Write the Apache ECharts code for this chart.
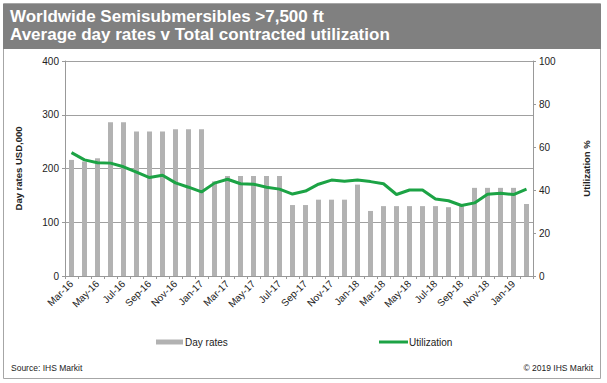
<!DOCTYPE html>
<html>
<head>
<meta charset="utf-8">
<style>
html,body{margin:0;padding:0;background:#fff;}
#c{width:607px;height:383px;}
</style>
<script src="https://cdn.jsdelivr.net/npm/echarts@6/dist/echarts.min.js"></script>
</head>
<body>
<div id="c"></div>
<script>
var categories = ['Mar-16','Apr-16','May-16','Jun-16','Jul-16','Aug-16','Sep-16','Oct-16','Nov-16','Dec-16','Jan-17','Feb-17',
  'Mar-17','Apr-17','May-17','Jun-17','Jul-17','Aug-17','Sep-17','Oct-17','Nov-17','Dec-17','Jan-18','Feb-18',
  'Mar-18','Apr-18','May-18','Jun-18','Jul-18','Aug-18','Sep-18','Oct-18','Nov-18','Dec-18','Jan-19','Feb-19'];
var dayRates = [216, 213, 219, 286, 286, 269, 269, 269, 273, 273, 273, 176,
  186, 186, 186, 186, 186, 132, 132, 142, 142, 142, 170, 121,
  130, 130, 130, 130, 130, 128, 130, 164, 164, 164, 164, 134];
var utilization = [57.4, 54, 52.7, 52.5, 50.8, 48.3, 45.8, 46.9, 43.3, 41.3, 39.1, 43.2,
  45, 42.9, 42.7, 41.3, 40.4, 38.1, 39.5, 42.7, 44.6, 44.1, 44.6, 43.9,
  42.9, 37.9, 40, 40, 35.8, 35, 32.8, 34, 38, 38.5, 37.9, 40.4];
var leftTicks = [0, 100, 200, 300, 400];
var rightTicks = [0, 20, 40, 60, 80, 100];

var FONT = 'Liberation Sans, Arial, sans-serif';
var chart = echarts.init(document.getElementById('c'), null, {renderer: 'svg'});
chart.setOption({
  backgroundColor: '#fff',
  animation: false,
  textStyle: {fontFamily: FONT},
  graphic: [
    {type: 'rect', shape: {x: 3.5, y: 3.5, width: 597, height: 375}, style: {fill: 'none', stroke: '#a6a6a6', lineWidth: 1}, z: 0},
    {type: 'rect', shape: {x: 3, y: 4, width: 598, height: 45}, style: {fill: '#808080'}, z: 1},
    {type: 'text', left: 10, top: 8, z: 2, style: {text: 'Worldwide Semisubmersibles >7,500 ft', fill: '#fff', font: 'bold 17px ' + FONT}},
    {type: 'text', left: 10, top: 26, z: 2, style: {text: 'Average day rates v Total contracted utilization', fill: '#fff', font: 'bold 17px ' + FONT}},
    {type: 'text', left: 11, top: 363, z: 2, style: {text: 'Source: IHS Markit', fill: '#222', font: '8.5px ' + FONT}},
    {type: 'text', right: 14, top: 363, z: 2, style: {text: '\u00A9 2019 IHS Markit', fill: '#222', font: '8.5px ' + FONT}}
  ],
  legend: [
    {data: ['Day rates'], left: 156, top: 337, padding: 0, icon: 'rect', itemWidth: 27, itemHeight: 5,
     textStyle: {fontSize: 10, color: '#222', fontFamily: FONT, padding: [0, 0, 0, -3]}},
    {data: ['Utilization'], left: 379, top: 337, padding: 0, icon: 'rect', itemWidth: 29, itemHeight: 3,
     textStyle: {fontSize: 10, color: '#222', fontFamily: FONT, padding: [0, 0, 0, -4]}}
  ],
  grid: {left: 65, right: 74, top: 61, bottom: 107, containLabel: false},
  xAxis: {
    type: 'category',
    data: categories,
    axisLine: {lineStyle: {color: '#999', width: 1}},
    axisTick: {show: true, interval: 0, length: 3, lineStyle: {color: '#999'}},
    axisLabel: {interval: 1, rotate: 45, fontSize: 10, color: '#222', margin: 6, fontFamily: FONT}
  },
  yAxis: [
    {
      type: 'value', min: leftTicks[0], max: leftTicks[leftTicks.length - 1], interval: 100,
      name: 'Day rates USD,000', nameLocation: 'middle', nameRotate: 90, nameGap: 42,
      nameTextStyle: {fontSize: 9.5, fontWeight: 'bold', color: '#222', fontFamily: FONT},
      axisLine: {show: true, lineStyle: {color: '#999'}},
      axisTick: {show: true, length: 3, lineStyle: {color: '#999'}},
      axisLabel: {fontSize: 10, color: '#222', margin: 6, fontFamily: FONT},
      splitLine: {show: true, lineStyle: {color: '#a0a0a0', width: 1}}
    },
    {
      type: 'value', position: 'right', min: rightTicks[0], max: rightTicks[rightTicks.length - 1], interval: 20,
      name: 'Utilization %', nameLocation: 'middle', nameRotate: 90, nameGap: 48,
      nameTextStyle: {fontSize: 9.5, fontWeight: 'bold', color: '#222', fontFamily: FONT},
      axisLine: {show: true, lineStyle: {color: '#999'}},
      axisTick: {show: true, length: 3, lineStyle: {color: '#999'}},
      axisLabel: {fontSize: 10, color: '#222', margin: 6, fontFamily: FONT},
      splitLine: {show: false}
    }
  ],
  series: [
    {name: 'Day rates', type: 'bar', data: dayRates, barWidth: 5, itemStyle: {color: '#b2b2b2'}, yAxisIndex: 0, z: 2},
    {name: 'Utilization', type: 'line', data: utilization, yAxisIndex: 1, symbol: 'none', showSymbol: false,
     lineStyle: {color: '#1ca345', width: 3}, itemStyle: {color: '#1ca345'}, z: 3}
  ]
});
</script>
</body>
</html>
